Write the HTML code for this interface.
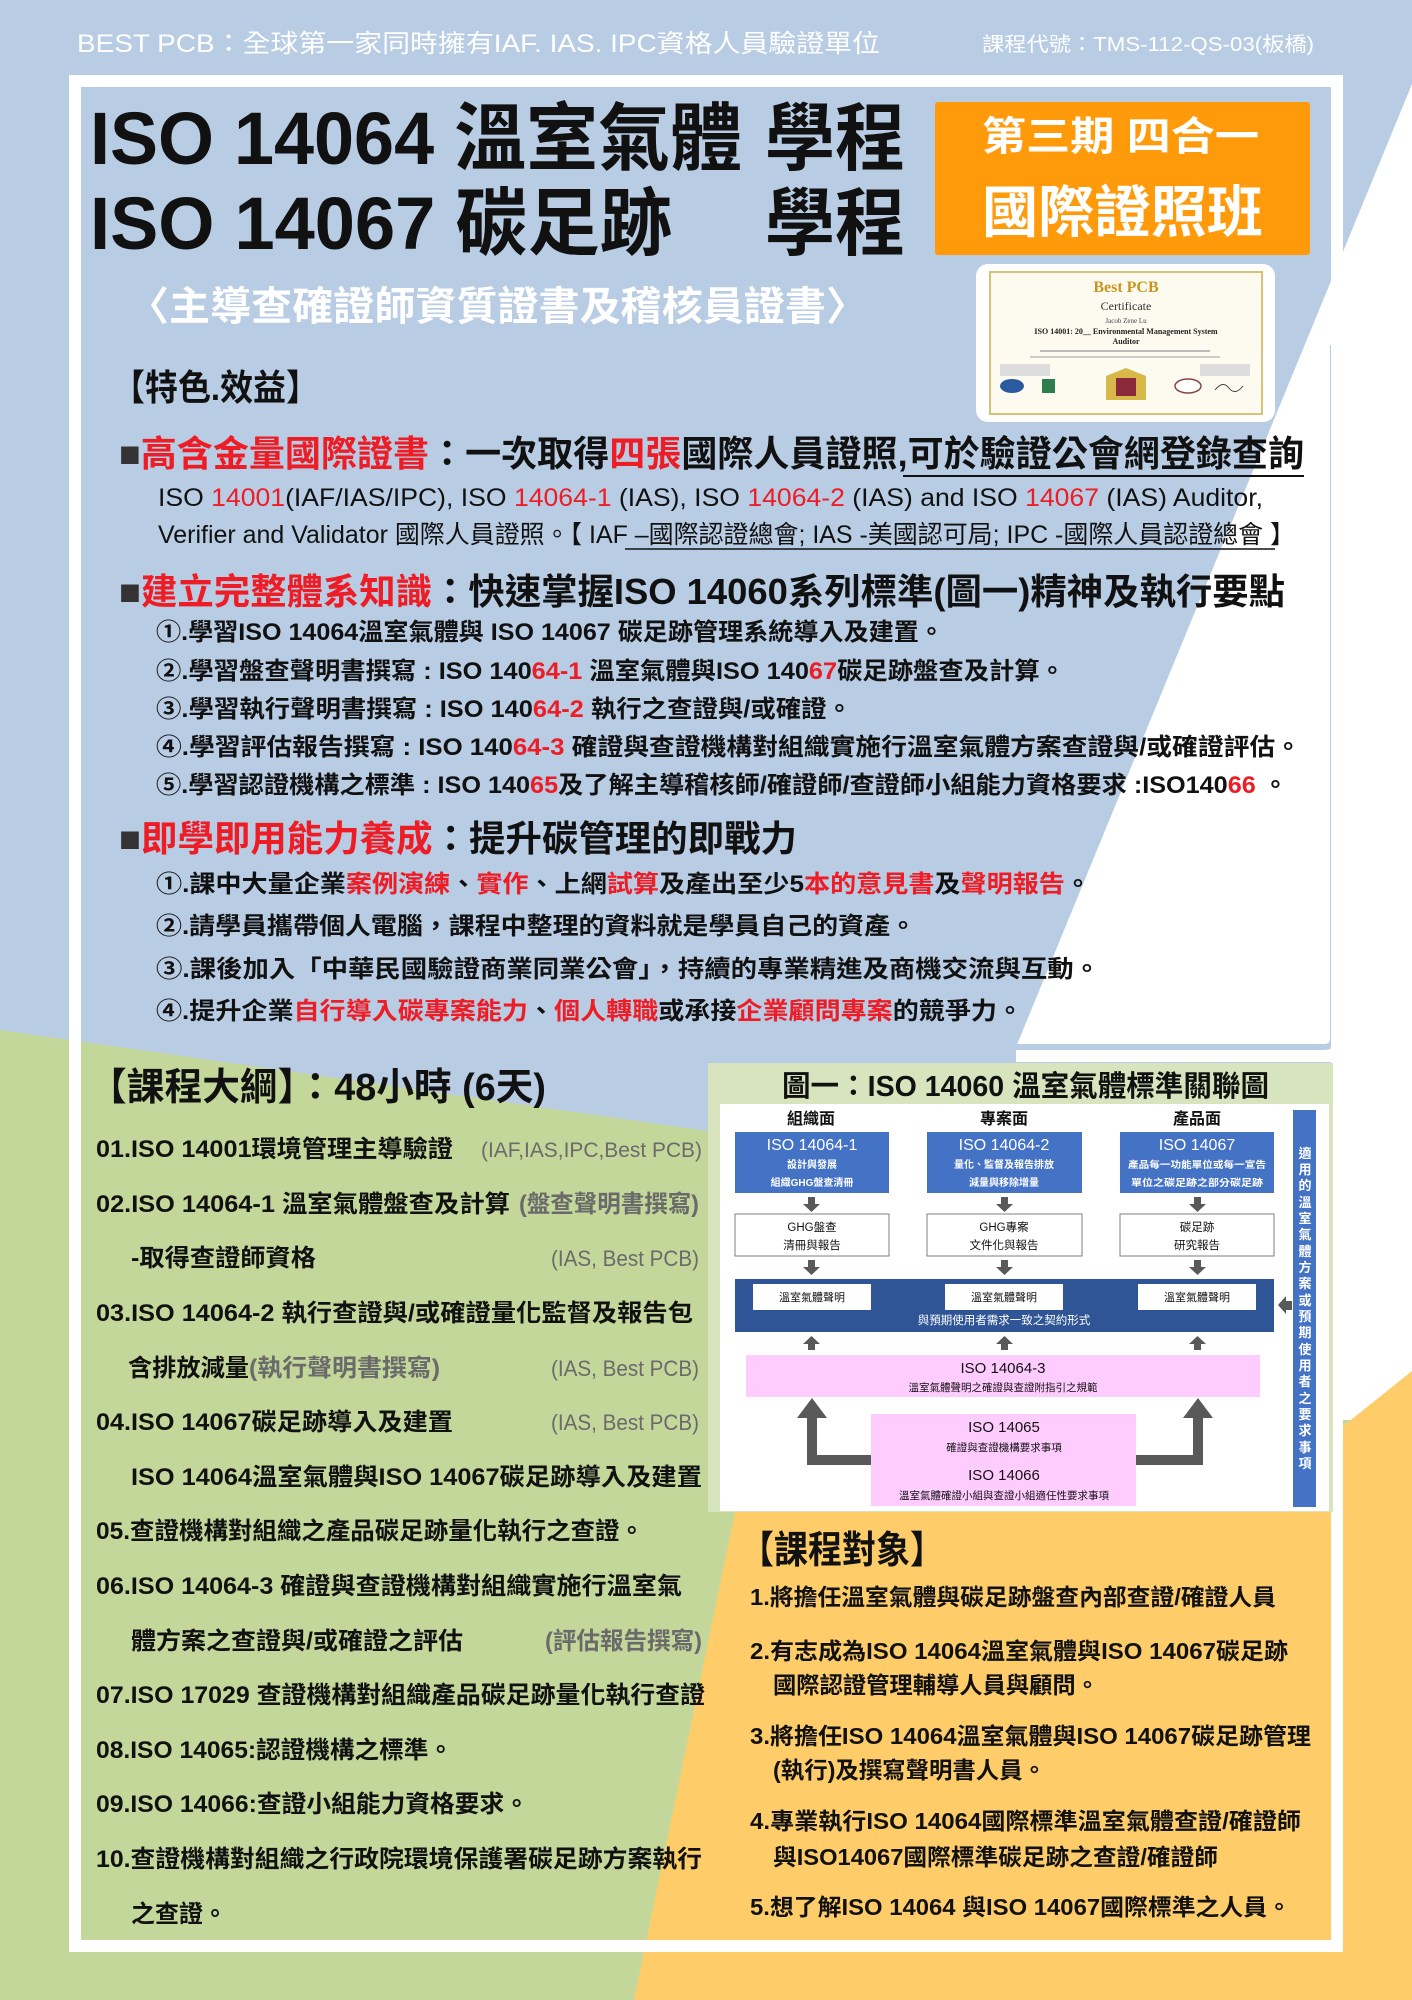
<!DOCTYPE html>
<html><head><meta charset="utf-8"><style>
html,body{margin:0;padding:0;width:1412px;height:2000px;overflow:hidden;background:#b8cce4}
svg{display:block}
text{font-family:"Liberation Sans","Noto Sans CJK TC",sans-serif;font-weight:bold}
.n{font-weight:normal}
.r{fill:#ee1c25}
.g{fill:#6a6a6a}
.w{fill:#fff}
</style></head><body>
<svg width="1412" height="2000" viewBox="0 0 1412 2000" xmlns="http://www.w3.org/2000/svg">
<!-- background -->
<rect x="0" y="0" width="1412" height="2000" fill="#b8cce4"/>
<polygon points="0,1030 708,1131 1412,1131 1412,2000 0,2000" fill="#c4d79b"/>
<polygon points="1412,84 1016,1047 1016,1062 1343,1062 1343,1420 1412,1420" fill="#ffffff"/>
<polygon points="1412,1371 1412,2000 634,2000 735,1512 1236,1512" fill="#fecd6a"/>
<path d="M1333,345 L1333,1038 Q1333,1047 1324,1047 L1016,1047" fill="none" stroke="#b8cce4" stroke-width="6"/>
<rect x="75" y="81" width="1262" height="1865" fill="none" stroke="#ffffff" stroke-width="12"/>

<!-- header -->
<text x="77" y="52" font-size="25" class="w n" textLength="803" lengthAdjust="spacingAndGlyphs">BEST PCB：全球第一家同時擁有IAF. IAS. IPC資格人員驗證單位</text>
<text x="982" y="51" font-size="20" class="w n" textLength="332" lengthAdjust="spacingAndGlyphs">課程代號：TMS-112-QS-03(板橋)</text>

<!-- title -->
<text x="90" y="164" font-size="74" fill="#111" textLength="652" lengthAdjust="spacingAndGlyphs">ISO 14064 溫室氣體</text>
<text x="765" y="164" font-size="74" fill="#111" textLength="140" lengthAdjust="spacingAndGlyphs">學程</text>
<text x="90" y="249" font-size="74" fill="#111" textLength="582" lengthAdjust="spacingAndGlyphs">ISO 14067 碳足跡</text>
<text x="765" y="249" font-size="74" fill="#111" textLength="140" lengthAdjust="spacingAndGlyphs">學程</text>

<rect x="935" y="102" width="375" height="153" rx="3" fill="#ff9a0a"/>
<text x="982" y="150" font-size="40" class="w" textLength="277" lengthAdjust="spacingAndGlyphs">第三期  四合一</text>
<text x="982" y="232" font-size="56" class="w" textLength="281" lengthAdjust="spacingAndGlyphs">國際證照班</text>

<!-- certificate -->
<rect x="976" y="264" width="299" height="158" rx="12" fill="#ffffff"/>
<rect x="990" y="272" width="272" height="142" fill="#fdfbf0" stroke="#d8c27a" stroke-width="2"/>
<text x="1126" y="292" font-size="16" fill="#c8961e" text-anchor="middle" style="font-family:'Liberation Serif',serif">Best PCB</text>
<text x="1126" y="310" font-size="12" fill="#333" text-anchor="middle" class="n" style="font-family:'Liberation Serif',serif">Certificate</text>
<text x="1126" y="323" font-size="7" fill="#444" text-anchor="middle" class="n" style="font-family:'Liberation Serif',serif">Jacob Zene Lu</text>
<text x="1126" y="334" font-size="8" fill="#222" text-anchor="middle" style="font-family:'Liberation Serif',serif">ISO 14001: 20__ Environmental Management System</text>
<text x="1126" y="344" font-size="8" fill="#222" text-anchor="middle" style="font-family:'Liberation Serif',serif">Auditor</text>
<rect x="1040" y="350" width="170" height="2" fill="#bbb"/>
<rect x="1030" y="356" width="190" height="2" fill="#ccc"/>
<rect x="1000" y="364" width="50" height="12" fill="#ddd"/>
<rect x="1200" y="364" width="50" height="12" fill="#ddd"/>
<ellipse cx="1012" cy="386" rx="12" ry="7" fill="#2a5aa0"/>
<rect x="1042" y="379" width="13" height="14" fill="#2e7d4f"/>
<path d="M1106,376 L1126,368 L1146,376 L1146,400 L1106,400 Z" fill="#d9b84a"/>
<rect x="1116" y="378" width="20" height="18" fill="#8a2a3a"/>
<ellipse cx="1188" cy="386" rx="13" ry="7" fill="#fff" stroke="#844" stroke-width="1.5"/>
<path d="M1215,390 q8,-10 14,-2 t14,-2" stroke="#444" fill="none"/>

<text x="128" y="320" font-size="40" class="w" textLength="739" lengthAdjust="spacingAndGlyphs">〈主導查確證師資質證書及稽核員證書〉</text>
<text x="112" y="400" font-size="36" fill="#111" textLength="207" lengthAdjust="spacingAndGlyphs">【特色.效益】</text>

<!-- section 1 -->
<text x="119" y="466" font-size="36" fill="#111" textLength="1185" lengthAdjust="spacingAndGlyphs"><tspan fill="#333">■</tspan><tspan class="r">高含金量國際證書</tspan>：一次取得<tspan class="r">四張</tspan>國際人員證照,可於驗證公會網登錄查詢</text>
<line x1="903" y1="476" x2="1304" y2="476" stroke="#111" stroke-width="2"/>
<text x="158" y="506" font-size="25" class="n" fill="#111" textLength="1105" lengthAdjust="spacingAndGlyphs">ISO <tspan class="r">14001</tspan>(IAF/IAS/IPC),  ISO <tspan class="r">14064-1</tspan> (IAS),  ISO <tspan class="r">14064-2</tspan> (IAS)  and  ISO <tspan class="r">14067</tspan> (IAS) Auditor,</text>
<text x="158" y="543" font-size="25" class="n" fill="#111" textLength="1137" lengthAdjust="spacingAndGlyphs">Verifier and Validator 國際人員證照。【 IAF –國際認證總會; IAS -美國認可局; IPC -國際人員認證總會 】</text>
<line x1="625" y1="549" x2="1275" y2="549" stroke="#111" stroke-width="1.5"/>

<!-- section 2 -->
<text x="119" y="604" font-size="36" fill="#111" textLength="1166" lengthAdjust="spacingAndGlyphs"><tspan fill="#333">■</tspan><tspan class="r">建立完整體系知識</tspan>：快速掌握ISO 14060系列標準(圖一)精神及執行要點</text>
<text x="156" y="640" font-size="24" fill="#111" textLength="788" lengthAdjust="spacingAndGlyphs">①.學習ISO 14064溫室氣體與 ISO 14067 碳足跡管理系統導入及建置。</text>
<text x="156" y="679" font-size="24" fill="#111" textLength="909" lengthAdjust="spacingAndGlyphs">②.學習盤查聲明書撰寫 : ISO 140<tspan class="r">64-1</tspan>  溫室氣體與ISO 140<tspan class="r">67</tspan>碳足跡盤查及計算。</text>
<text x="156" y="717" font-size="24" fill="#111" textLength="696" lengthAdjust="spacingAndGlyphs">③.學習執行聲明書撰寫 : ISO 140<tspan class="r">64-2</tspan>  執行之查證與/或確證。</text>
<text x="156" y="755" font-size="24" fill="#111" textLength="1145" lengthAdjust="spacingAndGlyphs">④.學習評估報告撰寫     : ISO 140<tspan class="r">64-3</tspan>  確證與查證機構對組織實施行溫室氣體方案查證與/或確證評估。</text>
<text x="156" y="793" font-size="24" fill="#111" textLength="1132" lengthAdjust="spacingAndGlyphs">⑤.學習認證機構之標準 : ISO 140<tspan class="r">65</tspan>及了解主導稽核師/確證師/查證師小組能力資格要求 :ISO140<tspan class="r">66</tspan> 。</text>

<!-- section 3 -->
<text x="119" y="851" font-size="36" fill="#111" textLength="678" lengthAdjust="spacingAndGlyphs"><tspan fill="#333">■</tspan><tspan class="r">即學即用能力養成</tspan>：提升碳管理的即戰力</text>
<text x="156" y="892" font-size="24" fill="#111" textLength="935" lengthAdjust="spacingAndGlyphs">①.課中大量企業<tspan class="r">案例演練</tspan>、<tspan class="r">實作</tspan>、上網<tspan class="r">試算</tspan>及產出至少5<tspan class="r">本的意見書</tspan>及<tspan class="r">聲明報告</tspan>。</text>
<text x="156" y="934" font-size="24" fill="#111" textLength="760" lengthAdjust="spacingAndGlyphs">②.請學員攜帶個人電腦，課程中整理的資料就是學員自己的資產。</text>
<text x="156" y="977" font-size="24" fill="#111" textLength="944" lengthAdjust="spacingAndGlyphs">③.課後加入「中華民國驗證商業同業公會」，持續的專業精進及商機交流與互動。</text>
<text x="156" y="1019" font-size="24" fill="#111" textLength="867" lengthAdjust="spacingAndGlyphs">④.提升企業<tspan class="r">自行導入碳專案能力</tspan>、<tspan class="r">個人轉職</tspan>或承接<tspan class="r">企業顧問專案</tspan>的競爭力。</text>

<!-- course outline -->
<text x="89" y="1100" font-size="38" fill="#111" textLength="457" lengthAdjust="spacingAndGlyphs">【課程大綱】：48小時 (6天)</text>
<g font-size="24" fill="#111">
<text x="96" y="1157" textLength="357" lengthAdjust="spacingAndGlyphs">01.ISO 14001環境管理主導驗證</text>
<text x="481" y="1157" class="g n" font-size="21" textLength="221" lengthAdjust="spacingAndGlyphs">(IAF,IAS,IPC,Best PCB)</text>
<text x="96" y="1212" textLength="414" lengthAdjust="spacingAndGlyphs">02.ISO 14064-1 溫室氣體盤查及計算</text>
<text x="519" y="1212" class="g" textLength="180" lengthAdjust="spacingAndGlyphs">(盤查聲明書撰寫)</text>
<text x="131" y="1266" textLength="185" lengthAdjust="spacingAndGlyphs">-取得查證師資格</text>
<text x="551" y="1266" class="g n" font-size="22" textLength="148" lengthAdjust="spacingAndGlyphs">(IAS, Best PCB)</text>
<text x="96" y="1321" textLength="597" lengthAdjust="spacingAndGlyphs">03.ISO 14064-2 執行查證與/或確證量化監督及報告包</text>
<text x="128" y="1376" textLength="121" lengthAdjust="spacingAndGlyphs">含排放減量</text>
<text x="249" y="1376" class="g" textLength="191" lengthAdjust="spacingAndGlyphs">(執行聲明書撰寫)</text>
<text x="551" y="1376" class="g n" font-size="22" textLength="148" lengthAdjust="spacingAndGlyphs">(IAS, Best PCB)</text>
<text x="96" y="1430" textLength="357" lengthAdjust="spacingAndGlyphs">04.ISO 14067碳足跡導入及建置</text>
<text x="551" y="1430" class="g n" font-size="22" textLength="148" lengthAdjust="spacingAndGlyphs">(IAS, Best PCB)</text>
<text x="131" y="1485" textLength="571" lengthAdjust="spacingAndGlyphs">ISO 14064溫室氣體與ISO 14067碳足跡導入及建置</text>
<text x="96" y="1539" textLength="548" lengthAdjust="spacingAndGlyphs">05.查證機構對組織之產品碳足跡量化執行之查證。</text>
<text x="96" y="1594" textLength="586" lengthAdjust="spacingAndGlyphs">06.ISO 14064-3 確證與查證機構對組織實施行溫室氣</text>
<text x="131" y="1649" textLength="332" lengthAdjust="spacingAndGlyphs">體方案之查證與/或確證之評估</text>
<text x="545" y="1649" class="g" textLength="157" lengthAdjust="spacingAndGlyphs">(評估報告撰寫)</text>
<text x="96" y="1703" textLength="609" lengthAdjust="spacingAndGlyphs">07.ISO 17029 查證機構對組織產品碳足跡量化執行查證</text>
<text x="96" y="1758" textLength="357" lengthAdjust="spacingAndGlyphs">08.ISO 14065:認證機構之標準。</text>
<text x="96" y="1812" textLength="433" lengthAdjust="spacingAndGlyphs">09.ISO 14066:查證小組能力資格要求。</text>
<text x="96" y="1867" textLength="606" lengthAdjust="spacingAndGlyphs">10.查證機構對組織之行政院環境保護署碳足跡方案執行</text>
<text x="131" y="1922" textLength="96" lengthAdjust="spacingAndGlyphs">之查證。</text>
</g>

<!-- target audience -->
<text x="740" y="1563" font-size="38" fill="#111" textLength="204" lengthAdjust="spacingAndGlyphs">【課程對象】</text>
<g font-size="23" fill="#111">
<text x="750" y="1605" textLength="526" lengthAdjust="spacingAndGlyphs">1.將擔任溫室氣體與碳足跡盤查內部查證/確證人員</text>
<text x="750" y="1659" textLength="538" lengthAdjust="spacingAndGlyphs">2.有志成為ISO 14064溫室氣體與ISO 14067碳足跡</text>
<text x="773" y="1693" textLength="326" lengthAdjust="spacingAndGlyphs">國際認證管理輔導人員與顧問。</text>
<text x="750" y="1744" textLength="561" lengthAdjust="spacingAndGlyphs">3.將擔任ISO 14064溫室氣體與ISO 14067碳足跡管理</text>
<text x="773" y="1778" textLength="273" lengthAdjust="spacingAndGlyphs">(執行)及撰寫聲明書人員。</text>
<text x="750" y="1829" textLength="551" lengthAdjust="spacingAndGlyphs">4.專業執行ISO 14064國際標準溫室氣體查證/確證師</text>
<text x="773" y="1865" textLength="445" lengthAdjust="spacingAndGlyphs">與ISO14067國際標準碳足跡之查證/確證師</text>
<text x="750" y="1915" textLength="541" lengthAdjust="spacingAndGlyphs">5.想了解ISO 14064 與ISO 14067國際標準之人員。</text>
</g>

<!-- diagram -->
<rect x="708" y="1063" width="625" height="449" fill="#d7e4bd"/>
<text x="782" y="1096" font-size="29" fill="#111" textLength="487" lengthAdjust="spacingAndGlyphs">圖一：ISO 14060 溫室氣體標準關聯圖</text>
<rect x="720" y="1104" width="609" height="407" fill="#ffffff"/>
<g font-size="16" fill="#111" text-anchor="middle">
<text x="811" y="1124">組織面</text><text x="1004" y="1124">專案面</text><text x="1197" y="1124">產品面</text>
</g>
<g fill="#4472c4">
<rect x="735" y="1132" width="154" height="61"/><rect x="927" y="1132" width="155" height="61"/><rect x="1120" y="1132" width="154" height="61"/>
</g>
<g fill="#fff" text-anchor="middle" class="n">
<text x="812" y="1150" font-size="16" class="n">ISO 14064-1</text>
<text x="812" y="1168" font-size="10">設計與發展</text>
<text x="812" y="1186" font-size="10">組織GHG盤查清冊</text>
<text x="1004" y="1150" font-size="16" class="n">ISO 14064-2</text>
<text x="1004" y="1168" font-size="10">量化、監督及報告排放</text>
<text x="1004" y="1186" font-size="10">減量與移除增量</text>
<text x="1197" y="1150" font-size="16" class="n">ISO 14067</text>
<text x="1197" y="1168" font-size="9.5" textLength="138" lengthAdjust="spacingAndGlyphs">產品每一功能單位或每一宣告</text>
<text x="1197" y="1186" font-size="9.5" textLength="132" lengthAdjust="spacingAndGlyphs">單位之碳足跡之部分碳足跡</text>
</g>
<g fill="#595959">
<rect x="808" y="1197" width="7" height="7"/><polygon points="803,1204 820,1204 811.5,1212"/>
<rect x="1001" y="1197" width="7" height="7"/><polygon points="996,1204 1013,1204 1004.5,1212"/>
<rect x="1194" y="1197" width="7" height="7"/><polygon points="1189,1204 1206,1204 1197.5,1212"/>
<rect x="808" y="1260" width="7" height="7"/><polygon points="803,1267 820,1267 811.5,1275"/>
<rect x="1001" y="1260" width="7" height="7"/><polygon points="996,1267 1013,1267 1004.5,1275"/>
<rect x="1194" y="1260" width="7" height="7"/><polygon points="1189,1267 1206,1267 1197.5,1275"/>
<rect x="808" y="1343" width="7" height="7"/><polygon points="803,1344 820,1344 811.5,1336"/>
<rect x="1001" y="1343" width="7" height="7"/><polygon points="996,1344 1013,1344 1004.5,1336"/>
<rect x="1194" y="1343" width="7" height="7"/><polygon points="1189,1344 1206,1344 1197.5,1336"/>
<polygon points="1278,1305 1286,1296 1286,1301 1292,1301 1292,1310 1286,1310 1286,1314"/>
</g>
<g fill="#fff" stroke="#7f7f7f" stroke-width="1">
<rect x="735" y="1214" width="154" height="42"/><rect x="927" y="1214" width="155" height="42"/><rect x="1120" y="1214" width="154" height="42"/>
</g>
<g fill="#111" font-size="11.5" text-anchor="middle" class="n">
<text x="812" y="1231" class="n">GHG盤查</text><text x="812" y="1249" class="n">清冊與報告</text>
<text x="1004" y="1231" class="n">GHG專案</text><text x="1004" y="1249" class="n">文件化與報告</text>
<text x="1197" y="1231" class="n">碳足跡</text><text x="1197" y="1249" class="n">研究報告</text>
</g>
<rect x="735" y="1279" width="539" height="53" fill="#2f5597"/>
<g fill="#fff"><rect x="753" y="1284" width="118" height="26"/><rect x="945" y="1284" width="118" height="26"/><rect x="1138" y="1284" width="118" height="26"/></g>
<g fill="#111" font-size="11" text-anchor="middle">
<text x="812" y="1301" class="n">溫室氣體聲明</text><text x="1004" y="1301" class="n">溫室氣體聲明</text><text x="1197" y="1301" class="n">溫室氣體聲明</text>
</g>
<text x="1004" y="1324" font-size="11.5" fill="#fff" text-anchor="middle" class="n">與預期使用者需求一致之契約形式</text>
<rect x="746" y="1355" width="514" height="42" fill="#ffccff"/>
<text x="1003" y="1373" font-size="15" fill="#111" text-anchor="middle" class="n">ISO 14064-3</text>
<text x="1003" y="1391" font-size="10.5" fill="#111" text-anchor="middle" class="n">溫室氣體聲明之確證與查證附指引之規範</text>
<rect x="871" y="1414" width="265" height="92" fill="#ffccff"/>
<text x="1004" y="1432" font-size="15" fill="#111" text-anchor="middle" class="n">ISO 14065</text>
<text x="1004" y="1451" font-size="10.5" fill="#111" text-anchor="middle" class="n">確證與查證機構要求事項</text>
<text x="1004" y="1480" font-size="15" fill="#111" text-anchor="middle" class="n">ISO 14066</text>
<text x="1004" y="1499" font-size="10.5" fill="#111" text-anchor="middle" class="n">溫室氣體確證小組與查證小組適任性要求事項</text>
<path d="M871,1460 L812,1460 L812,1416" fill="none" stroke="#595959" stroke-width="10"/>
<polygon points="797,1418 827,1418 812,1398" fill="#595959"/>
<path d="M1136,1460 L1198,1460 L1198,1416" fill="none" stroke="#595959" stroke-width="10"/>
<polygon points="1183,1418 1213,1418 1198,1398" fill="#595959"/>
<rect x="1293" y="1110" width="23" height="397" fill="#4472c4"/>
<g fill="#fff" font-size="13" text-anchor="middle">
<text x="1305" y="1158">適</text><text x="1305" y="1174">用</text><text x="1305" y="1190">的</text><text x="1305" y="1207">溫</text><text x="1305" y="1223">室</text><text x="1305" y="1239">氣</text><text x="1305" y="1256">體</text><text x="1305" y="1272">方</text><text x="1305" y="1288">案</text><text x="1305" y="1305">或</text><text x="1305" y="1321">預</text><text x="1305" y="1337">期</text><text x="1305" y="1354">使</text><text x="1305" y="1370">用</text><text x="1305" y="1386">者</text><text x="1305" y="1403">之</text><text x="1305" y="1419">要</text><text x="1305" y="1435">求</text><text x="1305" y="1452">事</text><text x="1305" y="1468">項</text>
</g>
</svg>
</body></html>
